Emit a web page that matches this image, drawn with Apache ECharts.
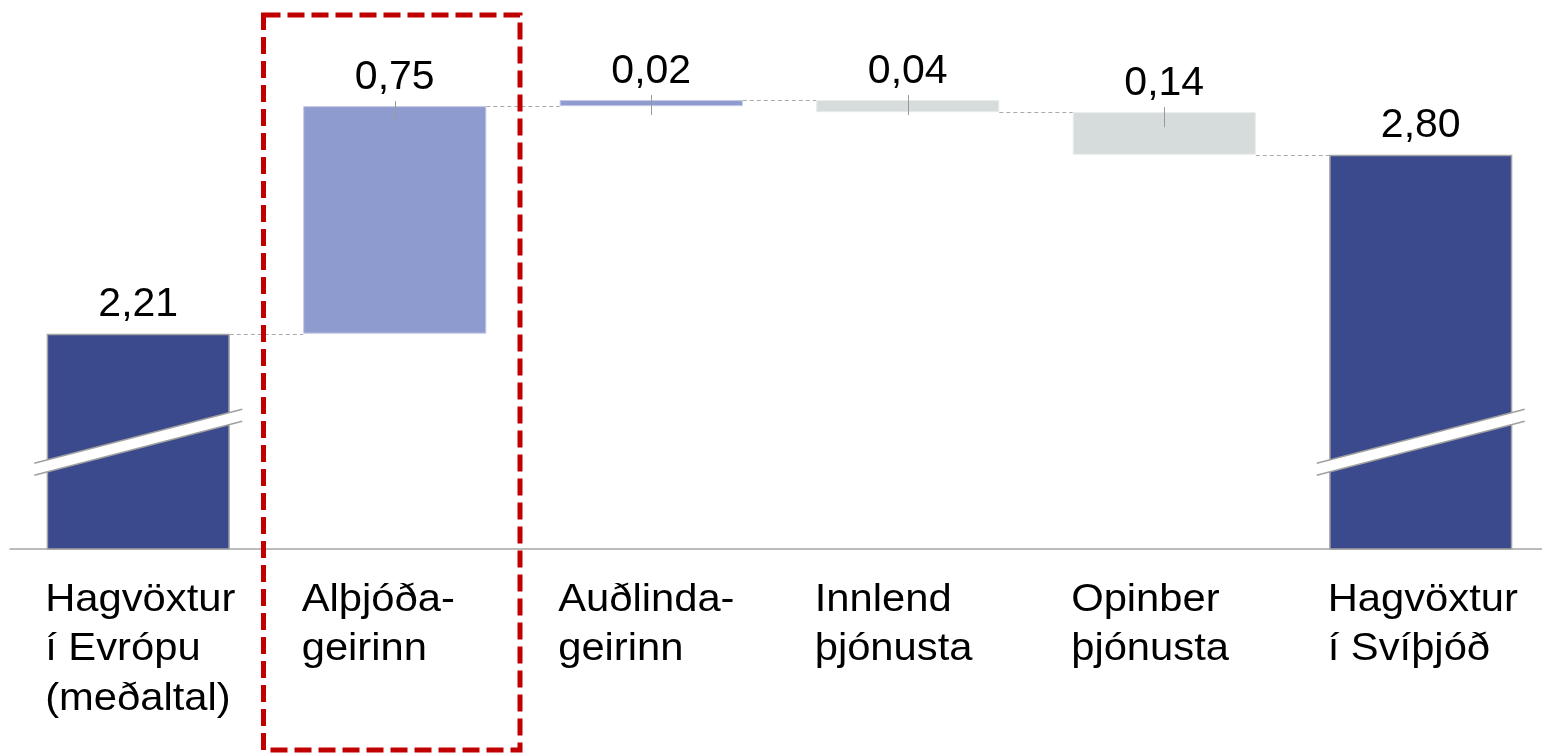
<!DOCTYPE html>
<html>
<head>
<meta charset="utf-8">
<script src="https://cdn.jsdelivr.net/npm/echarts@6/dist/echarts.min.js"></script>
<style>
  html, body { margin: 0; padding: 0; background: #fff; }
  #chart { width: 1542px; height: 756px; }
</style>
</head>
<body>
<div id="chart"></div>
<script>
// ---- data ----
const categories = [
  'Hagvöxtur\ní Evrópu\n(meðaltal)',
  'Alþjóða-\ngeirinn',
  'Auðlinda-\ngeirinn',
  'Innlend\nþjónusta',
  'Opinber\nþjónusta',
  'Hagvöxtur\ní Svíþjóð'
];
const changes = [2.21, 0.75, 0.02, -0.04, -0.14, 2.80];
const kinds = ['total', 'up', 'up', 'down', 'down', 'total'];
const highlightIndex = 1;

// ---- layout / style constants ----
const Y_MIN = 1.5, Y_MAX = 3.0;
const BAR_FRAC = 0.714;
const FONT = '"Liberation Sans", Arial, Helvetica, sans-serif';
const colors = {
  total: { fill: '#3a4a8c', border: '#a4a4a4', bw: 1.5 },
  up:    { fill: '#8e9bce', border: '#c3c9e6', bw: 1 },
  down:  { fill: '#d6dcdc', border: '#e8ecec', bw: 1 }
};

// ---- waterfall computation ----
const bases = [], heights = [], levels = [], tops = [];
let running = 0;
changes.forEach((v, i) => {
  const k = kinds[i];
  if (k === 'total') {
    bases.push(0); heights.push(v); running = v;
  } else if (v >= 0) {
    bases.push(running); heights.push(v); running += v;
  } else {
    running += v; bases.push(running); heights.push(-v);
  }
  levels.push(+running.toFixed(4));
  tops.push(+(bases[i] + heights[i]).toFixed(4));
});

const fmt = v => Math.abs(v).toFixed(2).replace('.', ',');

const chart = echarts.init(document.getElementById('chart'));

const option = {
  animation: false,
  grid: { left: 10, width: 1539, top: 94, bottom: 207, containLabel: false, outerBoundsMode: 'none' },
  xAxis: {
    type: 'category',
    data: categories,
    axisLine: { show: true, lineStyle: { color: '#a6a6a6', width: 1.5 } },
    axisTick: { show: false },
    axisLabel: { show: false },
    splitLine: { show: false }
  },
  yAxis: {
    type: 'value', min: Y_MIN, max: Y_MAX, show: false, splitLine: { show: false }
  },
  series: [
    {
      type: 'bar', stack: 'wf', barWidth: (BAR_FRAC * 100) + '%',
      itemStyle: { color: 'transparent', borderWidth: 0 },
      data: bases, silent: true, z: 2
    },
    {
      type: 'bar', stack: 'wf', barWidth: (BAR_FRAC * 100) + '%', z: 2,
      data: heights.map((h, i) => ({
        value: h,
        itemStyle: {
          color: colors[kinds[i]].fill,
          borderColor: colors[kinds[i]].border,
          borderWidth: colors[kinds[i]].bw
        }
      })),
      label: {
        show: true, position: 'top', distance: 8,
        fontSize: 41, fontFamily: FONT, color: '#000',
        formatter: p => fmt(changes[p.dataIndex])
      }
    },
    // connectors
    {
      type: 'custom', z: 1,
      data: levels.slice(0, levels.length - 1).map((l, i) => [i, l]),
      renderItem: (params, api) => {
        const i = api.value(0), l = api.value(1);
        const p1 = api.coord([i, l]), p2 = api.coord([i + 1, l]);
        const bw = api.size([1, 0])[0] * BAR_FRAC;
        return {
          type: 'line',
          shape: { x1: p1[0] + bw / 2, y1: Math.round(p1[1]) + 0.5, x2: p2[0] - bw / 2, y2: Math.round(p1[1]) + 0.5 },
          style: { stroke: '#aaaaaa', lineWidth: 1, lineDash: [4, 3] }
        };
      }
    },
    // leader lines from value labels
    {
      type: 'custom', z: 5,
      data: tops.map((t, i) => [i, t]).filter((d, i) => kinds[i] !== 'total'),
      renderItem: (params, api) => {
        const p = api.coord([api.value(0), api.value(1)]);
        const x = Math.round(p[0]) + 0.5;
        return {
          type: 'line',
          shape: { x1: x, y1: p[1] - 5, x2: x, y2: p[1] + 15 },
          style: { stroke: '#999999', lineWidth: 1 }
        };
      }
    },
    // axis-break marks on total bars
    {
      type: 'custom', z: 6,
      data: kinds.map((k, i) => [i, Y_MIN]).filter((d, i) => kinds[i] === 'total'),
      renderItem: (params, api) => {
        const p = api.coord([api.value(0), Y_MIN]);
        const cx = p[0], cy = p[1] - 112.7;
        const hl = 104, dy = 27, th = 12;
        return {
          type: 'group',
          children: [
            { type: 'polygon', shape: { points: [[cx - hl, cy + dy], [cx + hl, cy - dy], [cx + hl, cy - dy + th], [cx - hl, cy + dy + th]] },
              style: { fill: '#ffffff' } },
            { type: 'line', shape: { x1: cx - hl, y1: cy + dy, x2: cx + hl, y2: cy - dy },
              style: { stroke: '#a0a0a0', lineWidth: 1.5 } },
            { type: 'line', shape: { x1: cx - hl, y1: cy + dy + th, x2: cx + hl, y2: cy - dy + th },
              style: { stroke: '#a0a0a0', lineWidth: 1.5 } }
          ]
        };
      }
    },
    // category labels (left aligned to bar edge)
    {
      type: 'custom', z: 5,
      data: categories.map((c, i) => [i, Y_MIN]),
      renderItem: (params, api) => {
        const i = api.value(0);
        const p = api.coord([i, Y_MIN]);
        const bw = api.size([1, 0])[0] * BAR_FRAC;
        return {
          type: 'text',
          x: p[0] - bw / 2 - 1.5,
          y: p[1] + 26,
          scaleX: 1.07,
          style: {
            text: categories[i], x: 0, y: 0,
            fill: '#000', fontSize: 39, fontFamily: FONT,
            align: 'left', verticalAlign: 'top', lineHeight: 49.5
          }
        };
      }
    },
    // dashed highlight box
    {
      type: 'custom', z: 10,
      data: [[highlightIndex, Y_MIN]],
      renderItem: (params, api) => {
        const p = api.coord([api.value(0), Y_MIN]);
        const bw = api.size([1, 0])[0];
        return {
          type: 'rect',
          shape: { x: p[0] - bw / 2 - 3, y: 15, width: bw, height: api.getHeight() - 21 },
          style: { fill: 'none', stroke: '#c00000', lineWidth: 5, lineDash: [17, 7] }
        };
      }
    }
  ]
};
chart.setOption(option);
</script>
</body>
</html>
